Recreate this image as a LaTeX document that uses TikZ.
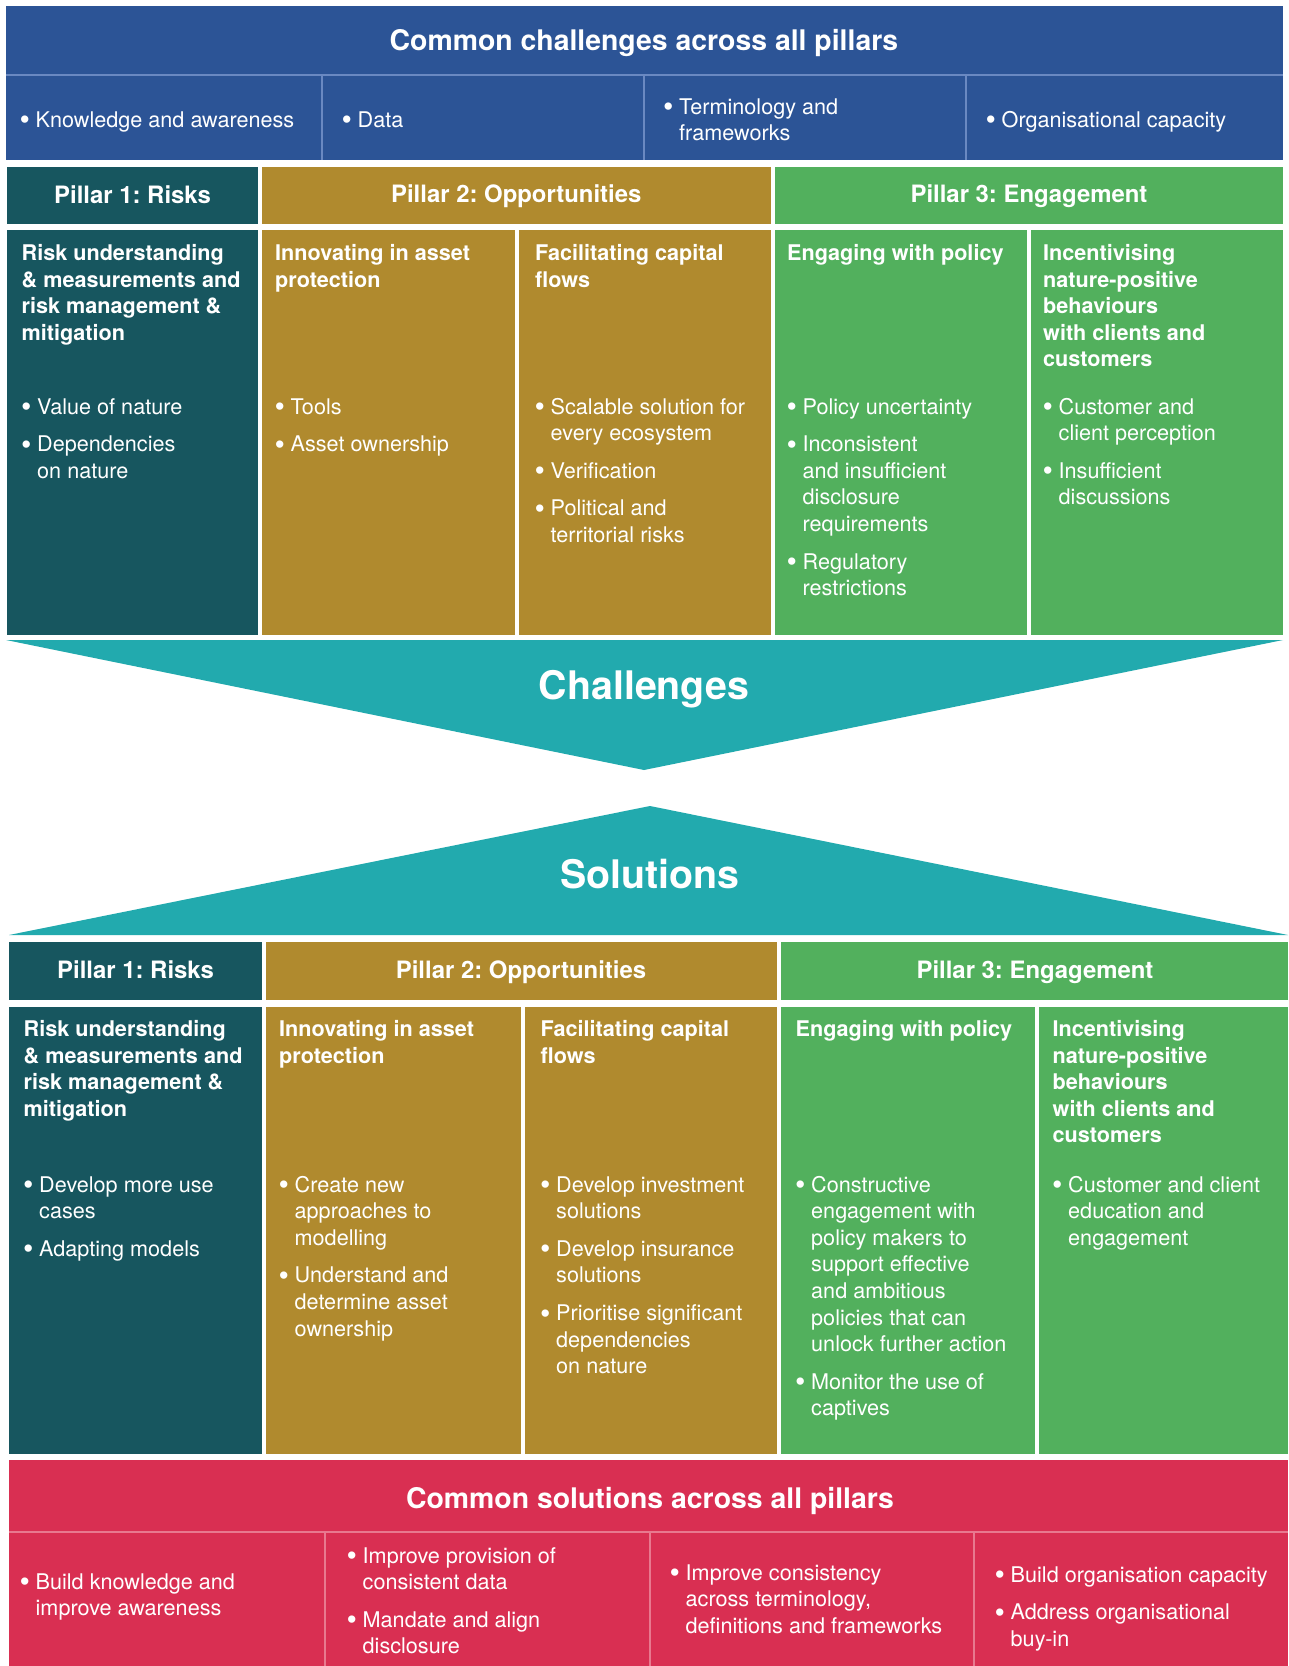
\documentclass[tikz,border=0pt]{standalone}
\usepackage{fontspec}
\setmainfont{TeX Gyre Heros}
\newfontfamily\dotfont{Liberation Sans}

\definecolor{capblue}{HTML}{2C5496}
\definecolor{capline}{HTML}{6A89C2}
\definecolor{riskteal}{HTML}{17565F}
\definecolor{oppgold}{HTML}{B08A2E}
\definecolor{enggreen}{HTML}{52B05D}
\definecolor{arrowteal}{HTML}{22AAAE}
\definecolor{solred}{HTML}{D92F52}
\definecolor{solline}{HTML}{E8798F}

% bullet of fixed width, text follows in the next column
\newcommand{\bu}{\makebox[15.5bp][l]{\raisebox{-1.6bp}{\dotfont\fontsize{27}{26.7}\selectfont\textbullet}}}
\newcommand{\gap}{\\[11bp]}

\tikzset{
  ptitle/.style={text=white, inner sep=0pt, font=\frenchspacing\fontsize{24}{28}\selectfont\bfseries},
  ctitle/.style={text=white, inner sep=0pt, font=\fontsize{28.5}{32}\selectfont\bfseries},
  bigword/.style={text=white, inner sep=0pt, font=\fontsize{39.5}{44}\selectfont\bfseries},
  headtext/.style={text=white, inner sep=0pt, anchor=base west, font=\fontsize{21.7}{26.7}\selectfont\bfseries},
  listtext/.style={text=white, inner sep=0pt, anchor=base west, font=\fontsize{21.7}{26.7}\selectfont},
  thinrule/.style={line width=1.4bp},
}

\begin{document}
\begin{tikzpicture}[x=1bp,y=-1bp]
\useasboundingbox (0,0) rectangle (1288,1666);
\fill[white] (0,0) rectangle (1288,1666);

% ---------- common challenges ----------
\fill[capblue] (6,6) rectangle (1283,160);
\draw[capline, thinrule] (6,75) -- (1283,75);
\foreach \x in {322,644,966} \draw[capline, thinrule] (\x,75) -- (\x,160);
\node[ctitle] (cctitle) at (644,43.5) {Common challenges across all pillars};
\node[listtext] (cc1) at (20,127) {\begin{tabular}[t]{@{}l@{}l@{}}\bu & Knowledge and awareness\end{tabular}};
\node[listtext] (cc2) at (342,127) {\begin{tabular}[t]{@{}l@{}l@{}}\bu & Data\end{tabular}};
\node[listtext] (cc3) at (663.5,114.3) {\begin{tabular}[t]{@{}l@{}l@{}}\bu & Terminology and\\ & frameworks\end{tabular}};
\node[listtext] (cc4) at (986,127) {\begin{tabular}[t]{@{}l@{}l@{}}\bu & Organisational capacity\end{tabular}};

% ---------- challenges: pillar headers ----------
\fill[riskteal] (7,167) rectangle (258,224);
\fill[oppgold] (262,167) rectangle (770.5,224);
\fill[enggreen] (775,167) rectangle (1283,224);
\node[ptitle] (cp1) at (132.5,194.5) {Pillar 1: Risks};
\node[ptitle] (cp2) at (516.25,196.5) {Pillar 2: Opportunities};
\node[ptitle] (cp3) at (1029,196.5) {Pillar 3: Engagement};

% ---------- challenges: columns ----------
\fill[riskteal] (7,230) rectangle (258,635);
\fill[oppgold] (262,230) rectangle (514.5,635);
\fill[oppgold] (518.5,230) rectangle (770.5,635);
\fill[enggreen] (775,230) rectangle (1027,635);
\fill[enggreen] (1031,230) rectangle (1283,635);

\node[headtext] (ch1) at (21.5,260.5) {\begin{tabular}[t]{@{}l@{}}Risk understanding\\ \& measurements and\\ risk management \&\\ mitigation\end{tabular}};
\node[listtext] (cl1) at (21.5,414) {\begin{tabular}[t]{@{}l@{}l@{}}\bu & Value of nature\gap
\bu & Dependencies\\ & on nature\end{tabular}};

\node[headtext] (ch2) at (275,260.5) {\begin{tabular}[t]{@{}l@{}}Innovating in asset\\ protection\end{tabular}};
\node[listtext] (cl2) at (275,414) {\begin{tabular}[t]{@{}l@{}l@{}}\bu & Tools\gap
\bu & Asset ownership\end{tabular}};

\node[headtext] (ch3) at (535,260.5) {\begin{tabular}[t]{@{}l@{}}Facilitating capital\\ flows\end{tabular}};
\node[listtext] (cl3) at (535,414) {\begin{tabular}[t]{@{}l@{}l@{}}\bu & Scalable solution for\\ & every ecosystem\gap
\bu & Verification\gap
\bu & Political and\\ & territorial risks\end{tabular}};

\node[headtext] (ch4) at (787,260.5) {\begin{tabular}[t]{@{}l@{}}Engaging with policy\end{tabular}};
\node[listtext] (cl4) at (787,414) {\begin{tabular}[t]{@{}l@{}l@{}}\bu & Policy uncertainty\gap
\bu & Inconsistent\\ & and insufficient\\ & disclosure\\ & requirements\gap
\bu & Regulatory\\ & restrictions\end{tabular}};

\node[headtext] (ch5) at (1043,260.5) {\begin{tabular}[t]{@{}l@{}}Incentivising\\ nature-positive\\ behaviours\\ with clients and\\ customers\end{tabular}};
\node[listtext] (cl5) at (1043,414) {\begin{tabular}[t]{@{}l@{}l@{}}\bu & Customer and\\ & client perception\gap
\bu & Insufficient\\ & discussions\end{tabular}};

% ---------- the two arrows ----------
\fill[arrowteal] (6,640) -- (1283,640) -- (644,770) -- cycle;
\node[bigword] (chal) at (644,689.5) {Challenges};
\fill[arrowteal] (9,935) -- (1288,935) -- (650,806) -- cycle;
\node[bigword] (solu) at (650,874.5) {Solutions};

% ---------- solutions: pillar headers ----------
\fill[riskteal] (9,942) rectangle (262,1000);
\fill[oppgold] (265.5,942) rectangle (777,1000);
\fill[enggreen] (781,942) rectangle (1288,1000);
\node[ptitle] (sp1) at (135.5,970) {Pillar 1: Risks};
\node[ptitle] (sp2) at (521,972) {Pillar 2: Opportunities};
\node[ptitle] (sp3) at (1035,972) {Pillar 3: Engagement};

% ---------- solutions: columns ----------
\fill[riskteal] (9,1006.5) rectangle (262,1454);
\fill[oppgold] (265.5,1006.5) rectangle (520.5,1454);
\fill[oppgold] (524.5,1006.5) rectangle (777,1454);
\fill[enggreen] (781,1006.5) rectangle (1035,1454);
\fill[enggreen] (1039,1006.5) rectangle (1288,1454);

\node[headtext] (sh1) at (23.5,1036.5) {\begin{tabular}[t]{@{}l@{}}Risk understanding\\ \& measurements and\\ risk management \&\\ mitigation\end{tabular}};
\node[listtext] (sl1) at (23.5,1192) {\begin{tabular}[t]{@{}l@{}l@{}}\bu & Develop more use\\ & cases\gap
\bu & Adapting models\end{tabular}};

\node[headtext] (sh2) at (279,1036.5) {\begin{tabular}[t]{@{}l@{}}Innovating in asset\\ protection\end{tabular}};
\node[listtext] (sl2) at (279,1192) {\begin{tabular}[t]{@{}l@{}l@{}}\bu & Create new\\ & approaches to\\ & modelling\gap
\bu & Understand and\\ & determine asset\\ & ownership\end{tabular}};

\node[headtext] (sh3) at (540.5,1036.5) {\begin{tabular}[t]{@{}l@{}}Facilitating capital\\ flows\end{tabular}};
\node[listtext] (sl3) at (540.5,1192) {\begin{tabular}[t]{@{}l@{}l@{}}\bu & Develop investment\\ & solutions\gap
\bu & Develop insurance\\ & solutions\gap
\bu & Prioritise significant\\ & dependencies\\ & on nature\end{tabular}};

\node[headtext] (sh4) at (795.5,1036.5) {\begin{tabular}[t]{@{}l@{}}Engaging with policy\end{tabular}};
\node[listtext] (sl4) at (795.5,1192) {\begin{tabular}[t]{@{}l@{}l@{}}\bu & Constructive\\ & engagement with\\ & policy makers to\\ & support effective\\ & and ambitious\\ & policies that can\\ & unlock further action\gap
\bu & Monitor the use of\\ & captives\end{tabular}};

\node[headtext] (sh5) at (1052.5,1036.5) {\begin{tabular}[t]{@{}l@{}}Incentivising\\ nature-positive\\ behaviours\\ with clients and\\ customers\end{tabular}};
\node[listtext] (sl5) at (1052.5,1192) {\begin{tabular}[t]{@{}l@{}l@{}}\bu & Customer and client\\ & education and\\ & engagement\end{tabular}};

% ---------- common solutions ----------
\fill[solred] (9,1460) rectangle (1288,1666);
\draw[solline, thinrule] (9,1532) -- (1288,1532);
\foreach \x in {325,650,974} \draw[solline, thinrule] (\x,1532) -- (\x,1666);
\node[ctitle] (cstitle) at (650,1500.5) {Common solutions across all pillars};
\node[listtext] (cs1) at (20,1589) {\begin{tabular}[t]{@{}l@{}l@{}}\bu & Build knowledge and\\ & improve awareness\end{tabular}};
\node[listtext] (cs2) at (347,1563) {\begin{tabular}[t]{@{}l@{}l@{}}\bu & Improve provision of\\ & consistent data\gap
\bu & Mandate and align\\ & disclosure\end{tabular}};
\node[listtext] (cs3) at (670,1580) {\begin{tabular}[t]{@{}l@{}l@{}}\bu & Improve consistency\\ & across terminology,\\ & definitions and frameworks\end{tabular}};
\node[listtext] (cs4) at (995,1582) {\begin{tabular}[t]{@{}l@{}l@{}}\bu & Build organisation capacity\gap
\bu & Address organisational\\ & buy-in\end{tabular}};
\end{tikzpicture}
\end{document}
